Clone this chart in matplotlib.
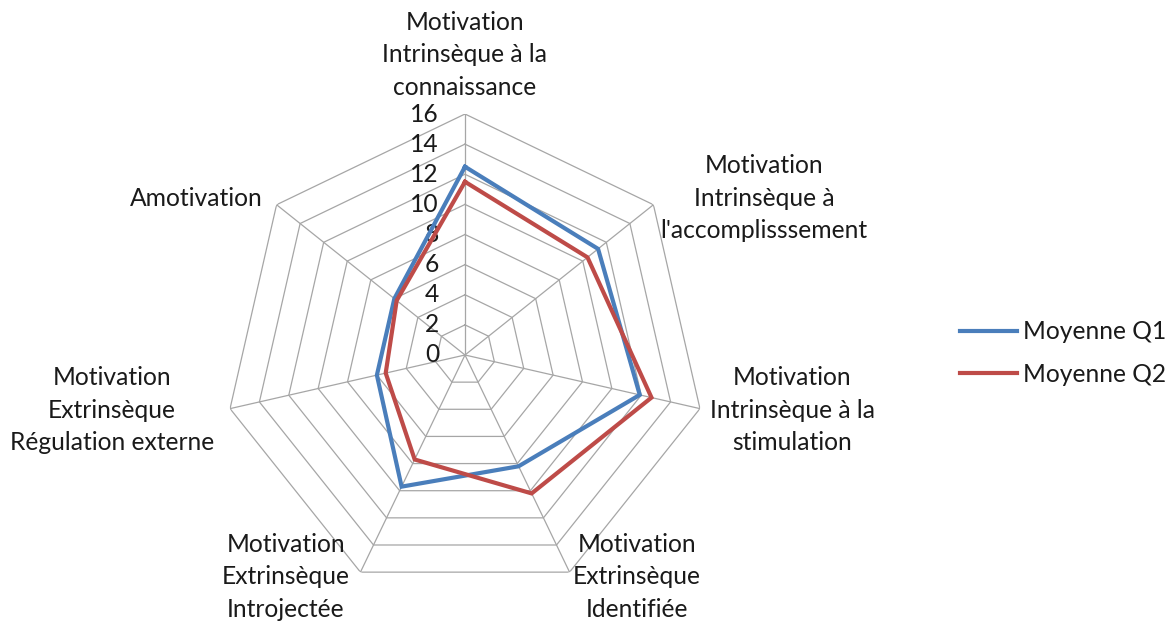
import numpy as np
import matplotlib
matplotlib.use("Agg")
import matplotlib.pyplot as plt
from matplotlib.transforms import offset_copy

categories = [
    "Motivation\nIntrinsèque à la\nconnaissance",
    "Motivation\nIntrinsèque à\nl'accomplisssement",
    "Motivation\nIntrinsèque à la\nstimulation",
    "Motivation\nExtrinsèque\nIdentifiée",
    "Motivation\nExtrinsèque\nIntrojectée",
    "Motivation\nExtrinsèque\nRégulation externe",
    "Amotivation",
]
q1 = [12.5, 11.3, 11.9, 8.2, 9.7, 6.0, 6.0]
q2 = [11.5, 10.4, 12.7, 10.2, 7.7, 5.4, 5.8]
series_names = ["Moyenne Q1", "Moyenne Q2"]
ticks = [0, 2, 4, 6, 8, 10, 12, 14, 16]

W, H = 1169, 624
plt.rcParams['font.family'] = ['Lato', 'DejaVu Sans']
fig = plt.figure(figsize=(W / 100, H / 100), dpi=100)
cx, cy, R = 465, 355, 241
ax = fig.add_axes([(cx - R) / W, (H - cy - R) / H, 2 * R / W, 2 * R / H], projection='polar')
ax.set_theta_offset(np.pi / 2)
ax.set_theta_direction(-1)
ax.set_ylim(0, 16)
ax.grid(False)
ax.spines['polar'].set_visible(False)
ax.set_xticks([])
ax.set_yticks([])
ax.patch.set_alpha(0)

n = len(categories)
angles = np.arange(n) * 2 * np.pi / n
grid_col = '#a6a6a6'
for t in ticks[1:]:
    a = np.append(angles, angles[0])
    ax.plot(a, [t] * (n + 1), color=grid_col, lw=0.9, zorder=1)
for a in angles:
    ax.plot([a, a], [0, 16], color=grid_col, lw=0.9, zorder=1)

fs = 17.7
tr = offset_copy(ax.transData, fig=fig, x=-26, y=0, units='dots')
for t in ticks:
    ax.text(0, t, str(t), transform=tr, ha='right', va='center', fontsize=fs, color='#1a1a1a')

a = np.append(angles, angles[0])
l1, = ax.plot(a, q1 + [q1[0]], color='#4a7ebb', lw=3, zorder=3, solid_joinstyle='miter', label=series_names[0])
l2, = ax.plot(a, q2 + [q2[0]], color='#be4b48', lw=3, zorder=3, solid_joinstyle='miter', label=series_names[1])

label_pos = [(465, 55), (764, 198), (792, 410), (637, 577), (286, 577), (112, 410), (196, 199)]
for txt, (x, y) in zip(categories, label_pos):
    fig.text(x / W, 1 - y / H, txt, ha='center', va='center', fontsize=fs,
             color='#1a1a1a', linespacing=1.5, multialignment='center')

leg = fig.legend(handles=[l1, l2], loc='center left', bbox_to_anchor=(960 / W, 1 - 353 / H),
                 frameon=False, fontsize=fs, handlelength=2.3, handletextpad=0.25,
                 labelspacing=0.8, borderpad=0, borderaxespad=0)
for t in leg.get_texts():
    t.set_color('#1a1a1a')

fig.savefig('out.png', dpi=100)
